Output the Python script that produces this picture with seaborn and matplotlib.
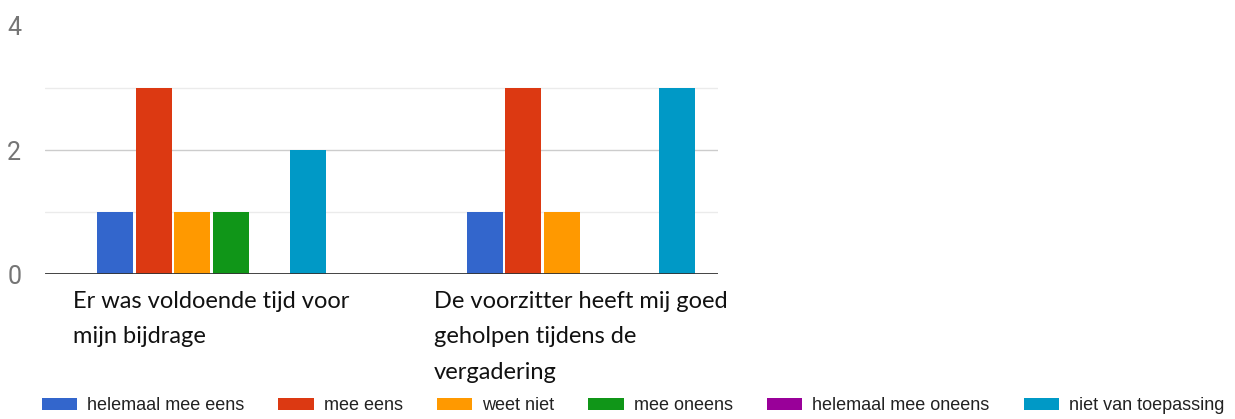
import pandas as pd
import seaborn as sns
import matplotlib.pyplot as plt

# survey statements (x categories)
statements = [
    "Er was voldoende tijd voor\nmijn bijdrage",
    "De voorzitter heeft mij goed\ngeholpen tijdens de\nvergadering",
]

# answer options (hue) and their colours
answers = [
    "helemaal mee eens",
    "mee eens",
    "weet niet",
    "mee oneens",
    "helemaal mee oneens",
    "niet van toepassing",
]
colors = ["#3366cc", "#dc3912", "#ff9900", "#109618", "#990099", "#0099c6"]

# counts per answer, one value per statement
helemaal_mee_eens = [1, 1]
mee_eens = [3, 3]
weet_niet = [1, 1]
mee_oneens = [1, 0]
helemaal_mee_oneens = [0, 0]
niet_van_toepassing = [2, 3]

counts = [helemaal_mee_eens, mee_eens, weet_niet, mee_oneens,
          helemaal_mee_oneens, niet_van_toepassing]

rows = []
for answer, vals in zip(answers, counts):
    for stmt, v in zip(statements, vals):
        rows.append({"statement": stmt, "answer": answer, "count": v})
df = pd.DataFrame(rows)

sns.set_style("white")

fig = plt.figure(figsize=(12.35, 4.19), dpi=100)
ax = fig.add_axes([0.0364, 0.346, 0.545, 0.592])

sns.barplot(data=df, x="statement", y="count", hue="answer",
            order=statements, hue_order=answers, palette=colors,
            saturation=1, width=0.625, gap=0.07, linewidth=0, ax=ax)

handles, labels = ax.get_legend_handles_labels()
ax.get_legend().remove()

ax.set_xlim(-0.4506, 1.3708)
ax.set_ylim(0, 4)
ax.set_yticks([0, 2, 4])
ax.set_yticks([1, 3], minor=True)
ax.set_yticklabels(["0", "2", "4"], fontfamily="Roboto", fontsize=18, color="#757575")
ax.tick_params(axis="y", which="both", length=0, pad=17)
ax.tick_params(axis="x", length=0, pad=12)

ax.set_xticks(range(len(statements)))
ax.set_xticklabels(statements, fontfamily="Lato", fontsize=17, color="#111111",
                   ha="center", multialignment="left", linespacing=1.86)

ax.grid(axis="y", which="major", color="#cccccc", linewidth=1)
ax.grid(axis="y", which="minor", color="#ebebeb", linewidth=1)
ax.set_axisbelow(True)
ax.get_ygridlines()[-1].set_visible(False)
ax.axhline(0, color="#333333", linewidth=2, zorder=5)

for side in ["top", "right", "left", "bottom"]:
    ax.spines[side].set_visible(False)
ax.set_xlabel("")
ax.set_ylabel("")

fig.legend(handles, labels, loc="lower center", bbox_to_anchor=(0.5125, -0.028),
           ncol=6, frameon=False, prop={"family": "Liberation Sans", "size": 13},
           labelcolor="#222222", handlelength=1.95, handleheight=0.7,
           handletextpad=0.55, columnspacing=1.9)

fig.savefig("out.png", dpi=100)
